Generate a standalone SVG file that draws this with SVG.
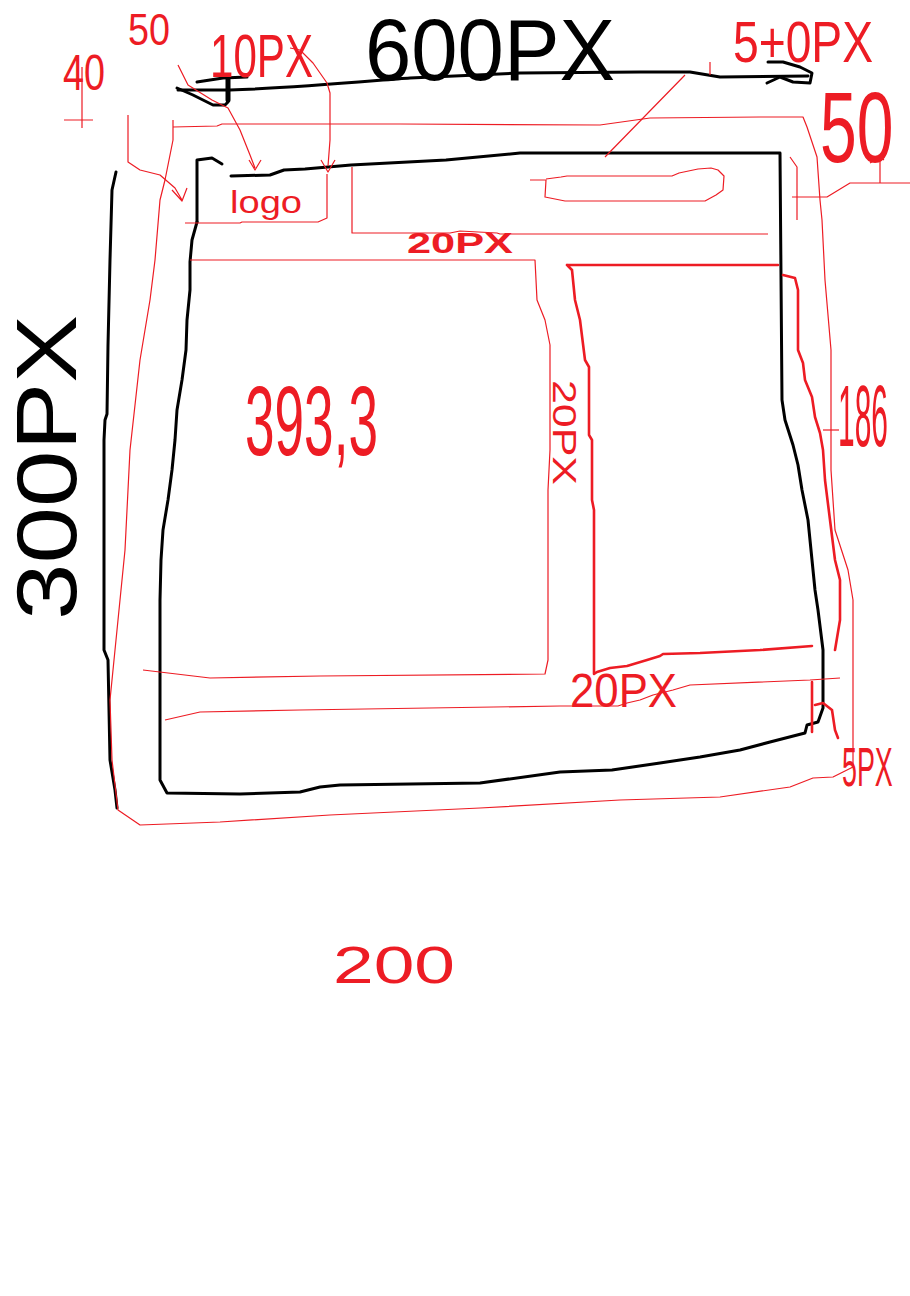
<svg xmlns="http://www.w3.org/2000/svg" width="910" height="1296" viewBox="0 0 910 1296">
<style>
.bg{fill:#fff}
.k{fill:none;stroke:#000;stroke-width:3;stroke-linejoin:round;stroke-linecap:round}
.kb{fill:none;stroke:#000;stroke-width:5;stroke-linecap:round}
.r{fill:none;stroke:#ed1c24;stroke-width:1.2;stroke-linejoin:round}
.rb{fill:none;stroke:#ed1c24;stroke-width:2.6;stroke-linejoin:round;stroke-linecap:round}
.tk{font-family:"Liberation Sans",Arial,sans-serif;fill:#000}
.tr{font-family:"Liberation Sans",Arial,sans-serif;fill:#ed1c24}
</style>
<rect class="bg" width="910" height="1296"/>

<g id="outline-black">
  <path class="k" d="M178,90 L230,90 C300,88 380,80 410,78 L520,73 L640,72 L690,72 L720,77 L808,76"/>
  <path class="k" d="M197,82 L223,78 L247,77 M177,88 L193,95 L213,105 L225,105 L228,102"/>
  <path class="kb" d="M228,79 L228,100"/>
  <path class="k" d="M768,62 L783,62 L800,67 L812,73 L810,83 L793,82 L780,77 L767,83"/>
  <path class="k" d="M116,172 L112,190 L110,260 L108,345 L107,414 L105,420 L104,440 L104,650 L108,660 L110,760 L115,790 L117,808"/>
  <path class="k" d="M197,222 L197,160 L212,158 L222,164"/>
  <path class="k" d="M231,176 L270,175 L284,170 L305,169 L351,165 L446,160 L520,153 L780,153 L782,400 L785,420 L793,445 L798,465 L802,490 L808,520 L812,560 L815,590 L818,610 L823,650 L823,708 L818,722 L807,725 L805,733 L770,742 L740,750 L700,757 L660,763 L612,770 L560,772 L480,783 L340,785 L320,787 L300,792 L240,794 L167,793 L160,780 L160,600 L161,560 L163,530 L168,500 L172,470 L175,440 L177,410 L182,380 L186,350 L187,320 L190,290 L190,262 L192,240 L197,222"/>
</g>

<g id="outline-red">
  <path class="r" d="M173,120 L173,140 M173,127 L217,126 L222,124 L400,124 L600,125 L650,118 L760,117 L803,117 L807,127 L817,157 L820,200 L822,220 L825,280 L831,350 L831,470 L835,530 L848,570 L853,600 L853,767 L843,772 L833,777 L813,778 L790,787 L720,797 L620,800 L480,808 L330,815 L220,822 L140,825 L118,810 L112,760 L110,700 L115,650 L120,600 L125,550 L130,450 L140,360 L150,300 L155,260 L160,200 L165,180 L173,140"/>
  <path class="r" d="M185,223 L240,223 L242,222 L318,222 L327,218 L327,174"/>
  <path class="r" d="M352,167 L352,233 L450,233 L460,231 L497,233 L500,234 L768,234"/>
  <path class="r" d="M530,180 L546,180 L545,197 L565,201 L705,201 L716,195 L723,190 L724,176 L718,170 L711,168 L698,169 L679,173 L672,176 L567,176 L561,177 L546,179"/>
  <path class="r" d="M190,260 L535,260 L537,300 L545,320 L550,345 L550,450 L548,490 L548,660 L545,674 L320,676 L210,678 L143,670"/>
  <path class="r" d="M165,720 L200,712 L300,710 L560,706 L618,706 L627,703 L640,700 L653,695 L673,690 L690,685 L810,680 L840,678"/>
  <path class="rb" d="M567,265 L778,265 M567,265 L572,270 L575,300 L580,320 L585,360 L589,367 L589,435 L592,440 L592,500 L594,510 L594,674 L597,672 L610,668 L627,666 L647,660 L660,656 L663,654 L700,653 L760,650 L812,646"/>
  <path class="rb" d="M783,275 L795,278 L798,290 L798,350 L803,363 L805,380 L812,397 L815,417 L820,433 L823,450 L825,480 L830,520 L835,560 L840,580 L840,620 L835,650"/>
  <path class="r" d="M823,430 L839,430"/>
  <path class="r" d="M790,157 L797,167 L797,220 M792,197 L827,197 L850,183 L910,183 M880,157 L880,183 M870,163 L880,157 L884,160"/>
  <path class="rb" d="M812,682 L812,732 M815,705 L823,703 L832,710 L835,730 L838,738"/>
</g>

<g id="connectors">
  <path class="r" d="M64,120 L93,120 M82,67 L82,128"/>
  <path class="r" d="M178,65 L188,85 L212,100 L228,108 L240,130 L250,155 L255,168 M249,160 L255,170 L261,160"/>
  <path class="r" d="M290,48 L300,50 L313,63 L327,83 L330,93 L330,140 L328,166 M321,160 L328,172 L335,160"/>
  <path class="r" d="M128,115 L128,162 L140,170 L160,175 L175,188 L182,200 M172,190 L182,201 L187,188"/>
  <path class="r" d="M605,157 L685,75 M710,62 L710,75"/>
</g>

<g id="labels">
  <text class="tk" x="365" y="80" font-size="88" textLength="250" lengthAdjust="spacingAndGlyphs">600PX</text>
  <text class="tk" transform="translate(76,620) rotate(-90)" font-size="86" textLength="305" lengthAdjust="spacingAndGlyphs">300PX</text>
  <text class="tr" x="63" y="90" font-size="50" textLength="42" lengthAdjust="spacingAndGlyphs">40</text>
  <text class="tr" x="128" y="45" font-size="45" textLength="42" lengthAdjust="spacingAndGlyphs">50</text>
  <text class="tr" x="210" y="77" font-size="62" textLength="103" lengthAdjust="spacingAndGlyphs">10PX</text>
  <text class="tr" x="733" y="62" font-size="58" textLength="140" lengthAdjust="spacingAndGlyphs">5+0PX</text>
  <text class="tr" transform="translate(820,162) scale(0.66,1)" font-size="100">50</text>
  <text class="tr" x="230" y="213" font-size="32" textLength="72" lengthAdjust="spacingAndGlyphs">logo</text>
  <text class="tr" x="407" y="253" font-size="29" font-weight="bold" textLength="106" lengthAdjust="spacingAndGlyphs">20PX</text>
  <text class="tr" x="245" y="455" font-size="98" textLength="133" lengthAdjust="spacingAndGlyphs">393,3</text>
  <text class="tr" transform="translate(553,380) rotate(90)" font-size="34" textLength="105" lengthAdjust="spacingAndGlyphs">20PX</text>
  <text class="tr" transform="translate(838,446) scale(0.34,1)" font-size="88">186</text>
  <text class="tr" transform="translate(842,786) scale(0.48,1)" font-size="56">5PX</text>
  <text class="tr" x="570" y="707" font-size="48" textLength="107" lengthAdjust="spacingAndGlyphs">20PX</text>
  <text class="tr" x="333" y="983" font-size="52" textLength="122" lengthAdjust="spacingAndGlyphs">200</text>
</g>
</svg>
